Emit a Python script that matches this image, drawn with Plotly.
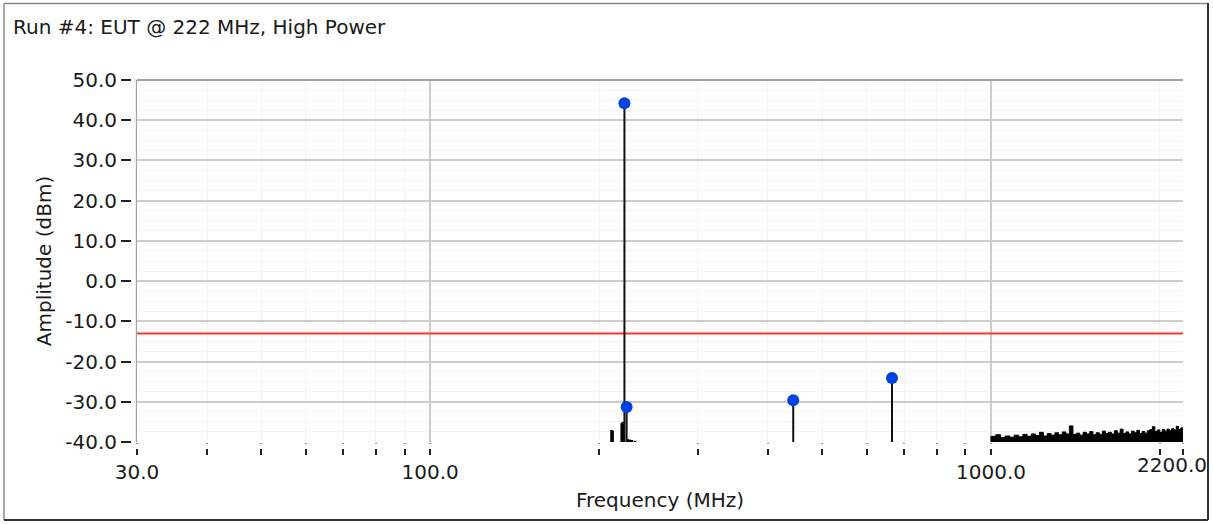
import math
import plotly.graph_objects as go

# ---- data ----
harm_freq = [222, 224, 444, 666]          # MHz
harm_amp = [44.2, -31.3, -29.6, -24.1]    # dBm
limit_dbm = -13.0

spur_freq = [210.5, 211.5, 219.5, 220.5, 225, 226, 227, 228, 229, 232]
spur_amp = [-37.0, -37.2, -35.3, -35.0, -39.3, -39.5, -39.4, -39.6, -39.5, -39.7]

noise_freq = list(range(1000, 2201, 20))
noise_amp = [-38.6, -38.2, -38.9, -38.5, -38.8, -38.3, -38.7, -38.1, -38.6, -38.0,
             -38.4, -37.6, -38.5, -37.9, -38.3, -37.7, -38.2, -37.5, -38.0, -36.0,
             -38.1, -37.8, -38.3, -37.6, -38.0, -37.4, -38.2, -37.7, -38.1, -37.3,
             -37.9, -37.6, -38.0, -37.2, -37.8, -36.8, -37.9, -37.5, -38.0, -37.3,
             -37.7, -37.1, -37.9, -37.4, -37.8, -37.2, -36.9, -36.2, -37.4, -37.0,
             -37.6, -36.9, -37.3, -36.8, -37.2, -36.7, -37.0, -36.1, -36.9, -36.5,
             -37.0]

x_major = [30, 100, 1000, 2200]
x_labels = ["30.0", "100.0", "1000.0", "2200.0"]
x_minor = [40, 50, 60, 70, 80, 90, 200, 300, 400, 500, 600, 700, 800, 900, 2000]
y_ticks = [50, 40, 30, 20, 10, 0, -10, -20, -30, -40]

FLOOR = -40.0
FONT = "DejaVu Sans"
FS = 20
TXT = "#1a1a1a"

# ---- geometry (pixels) ----
W, H = 1213, 524
L, R, T, B = 137, 1183, 80, 442
pw, ph = R - L, B - T

def px(x):
    return (x - L) / pw

def py(y):
    return (B - y) / ph

fig = go.Figure()

# noise floor (filled)
fig.add_trace(go.Scatter(
    x=[noise_freq[0]] + noise_freq + [noise_freq[-1]],
    y=[FLOOR - 2] + noise_amp + [FLOOR - 2],
    mode="lines", line=dict(color="black", width=1, shape="hv"),
    fill="toself", fillcolor="black", hoverinfo="skip", showlegend=False))

# spurs near carrier
sx, sy = [], []
for f, a in zip(spur_freq, spur_amp):
    sx += [f, f, None]
    sy += [FLOOR - 2, a, None]
fig.add_trace(go.Scatter(x=sx, y=sy, mode="lines",
                         line=dict(color="black", width=2.5),
                         hoverinfo="skip", showlegend=False))

# limit line
fig.add_trace(go.Scatter(x=[x_major[0], x_major[-1]], y=[limit_dbm, limit_dbm],
                         mode="lines", line=dict(color="#f23a2c", width=2),
                         showlegend=False))

# stems
hx, hy = [], []
for f, a in zip(harm_freq, harm_amp):
    hx += [f, f, None]
    hy += [FLOOR - 2, a, None]
fig.add_trace(go.Scatter(x=hx, y=hy, mode="lines",
                         line=dict(color="#111111", width=2),
                         hoverinfo="skip", showlegend=False))
fig.add_trace(go.Scatter(x=harm_freq, y=harm_amp, mode="markers",
                         marker=dict(color="#0042e0", size=12),
                         showlegend=False))

fig.update_layout(
    width=W, height=H, autosize=False,
    margin=dict(l=L, r=W - R, t=T, b=H - B),
    paper_bgcolor="white", plot_bgcolor="white",
    font=dict(family=FONT, size=FS, color=TXT),
    title=dict(text="Run #4: EUT @ 222 MHz, High Power",
               x=13 / W, xanchor="left", xref="container",
               y=1 - 27 / H, yanchor="middle", yref="container",
               font=dict(family=FONT, size=FS, color=TXT)),
    showlegend=False,
)

fig.update_xaxes(
    type="log", range=[math.log10(30), math.log10(2200)],
    tickmode="array", tickvals=x_major[:-1], ticktext=x_labels[:-1],
    ticks="outside", ticklen=12, tickwidth=2, tickcolor="#222222",
    showgrid=True, gridcolor="#cccccc", gridwidth=2,
    showline=False, zeroline=False,
    minor=dict(tickmode="array", tickvals=x_minor + [x_major[-1]], ticks="outside",
               ticklen=12, tickwidth=2, tickcolor="#222222",
               showgrid=True, gridcolor="#f3f3f3", gridwidth=1),
    title=dict(text="Frequency (MHz)", standoff=9,
               font=dict(family=FONT, size=FS, color=TXT)),
    tickfont=dict(family=FONT, size=FS, color=TXT),
)

fig.update_yaxes(
    range=[-40, 50], tickmode="array", tickvals=y_ticks,
    ticktext=[f"{v:.1f}" for v in y_ticks],
    ticks="outside", ticklen=14, tickwidth=2, tickcolor="#222222",
    showgrid=True, gridcolor="#cccccc", gridwidth=2,
    showline=True, linecolor="#a0a0a0", linewidth=2, zeroline=False,
    minor=dict(dtick=2.5, showgrid=True, gridcolor="#f3f3f3", gridwidth=1),
    title=dict(text="Amplitude (dBm)", standoff=8,
               font=dict(family=FONT, size=FS, color=TXT)),
    tickfont=dict(family=FONT, size=FS, color=TXT),
)

# last x tick label (sits at the right edge; nudged to stay inside the frame)
fig.add_annotation(x=math.log10(x_major[-1]), xref="x", y=py(B + 23), yref="paper",
                   text=x_labels[-1], showarrow=False, xanchor="center",
                   xshift=-11, yanchor="middle",
                   font=dict(family=FONT, size=FS, color=TXT))

shapes = [
    # top border of the plot
    dict(type="line", xref="paper", yref="paper", x0=0, x1=1, y0=1, y1=1,
         line=dict(color="#a0a0a0", width=2), layer="above"),
    # gaps between axis and tick marks
    dict(type="rect", xref="paper", yref="paper", x0=px(L - 1), x1=1.01,
         y0=py(B + 1.5), y1=py(B + 7), fillcolor="white", line=dict(width=0),
         layer="above"),
    dict(type="rect", xref="paper", yref="paper", x0=px(L - 6), x1=px(L - 1.2),
         y0=py(B + 5), y1=py(T - 5), fillcolor="white", line=dict(width=0),
         layer="above"),
    # outer frame
    dict(type="line", xref="paper", yref="paper", x0=px(4), x1=px(1208),
         y0=py(3.5), y1=py(3.5), line=dict(color="#8a8a8a", width=1.5),
         layer="above"),
    dict(type="line", xref="paper", yref="paper", x0=px(4), x1=px(4),
         y0=py(3.5), y1=py(520), line=dict(color="#8a8a8a", width=1.5),
         layer="above"),
    dict(type="line", xref="paper", yref="paper", x0=px(1208), x1=px(1208),
         y0=py(3), y1=py(520), line=dict(color="#333333", width=2),
         layer="above"),
    dict(type="line", xref="paper", yref="paper", x0=px(4), x1=px(1208),
         y0=py(520), y1=py(520), line=dict(color="#333333", width=2),
         layer="above"),
]
fig.update_layout(shapes=shapes)

fig.write_html("out.html",
               config={"displayModeBar": False, "responsive": False},
               post_script="document.body.style.margin='0';"
                           "document.body.style.overflow='hidden';")
